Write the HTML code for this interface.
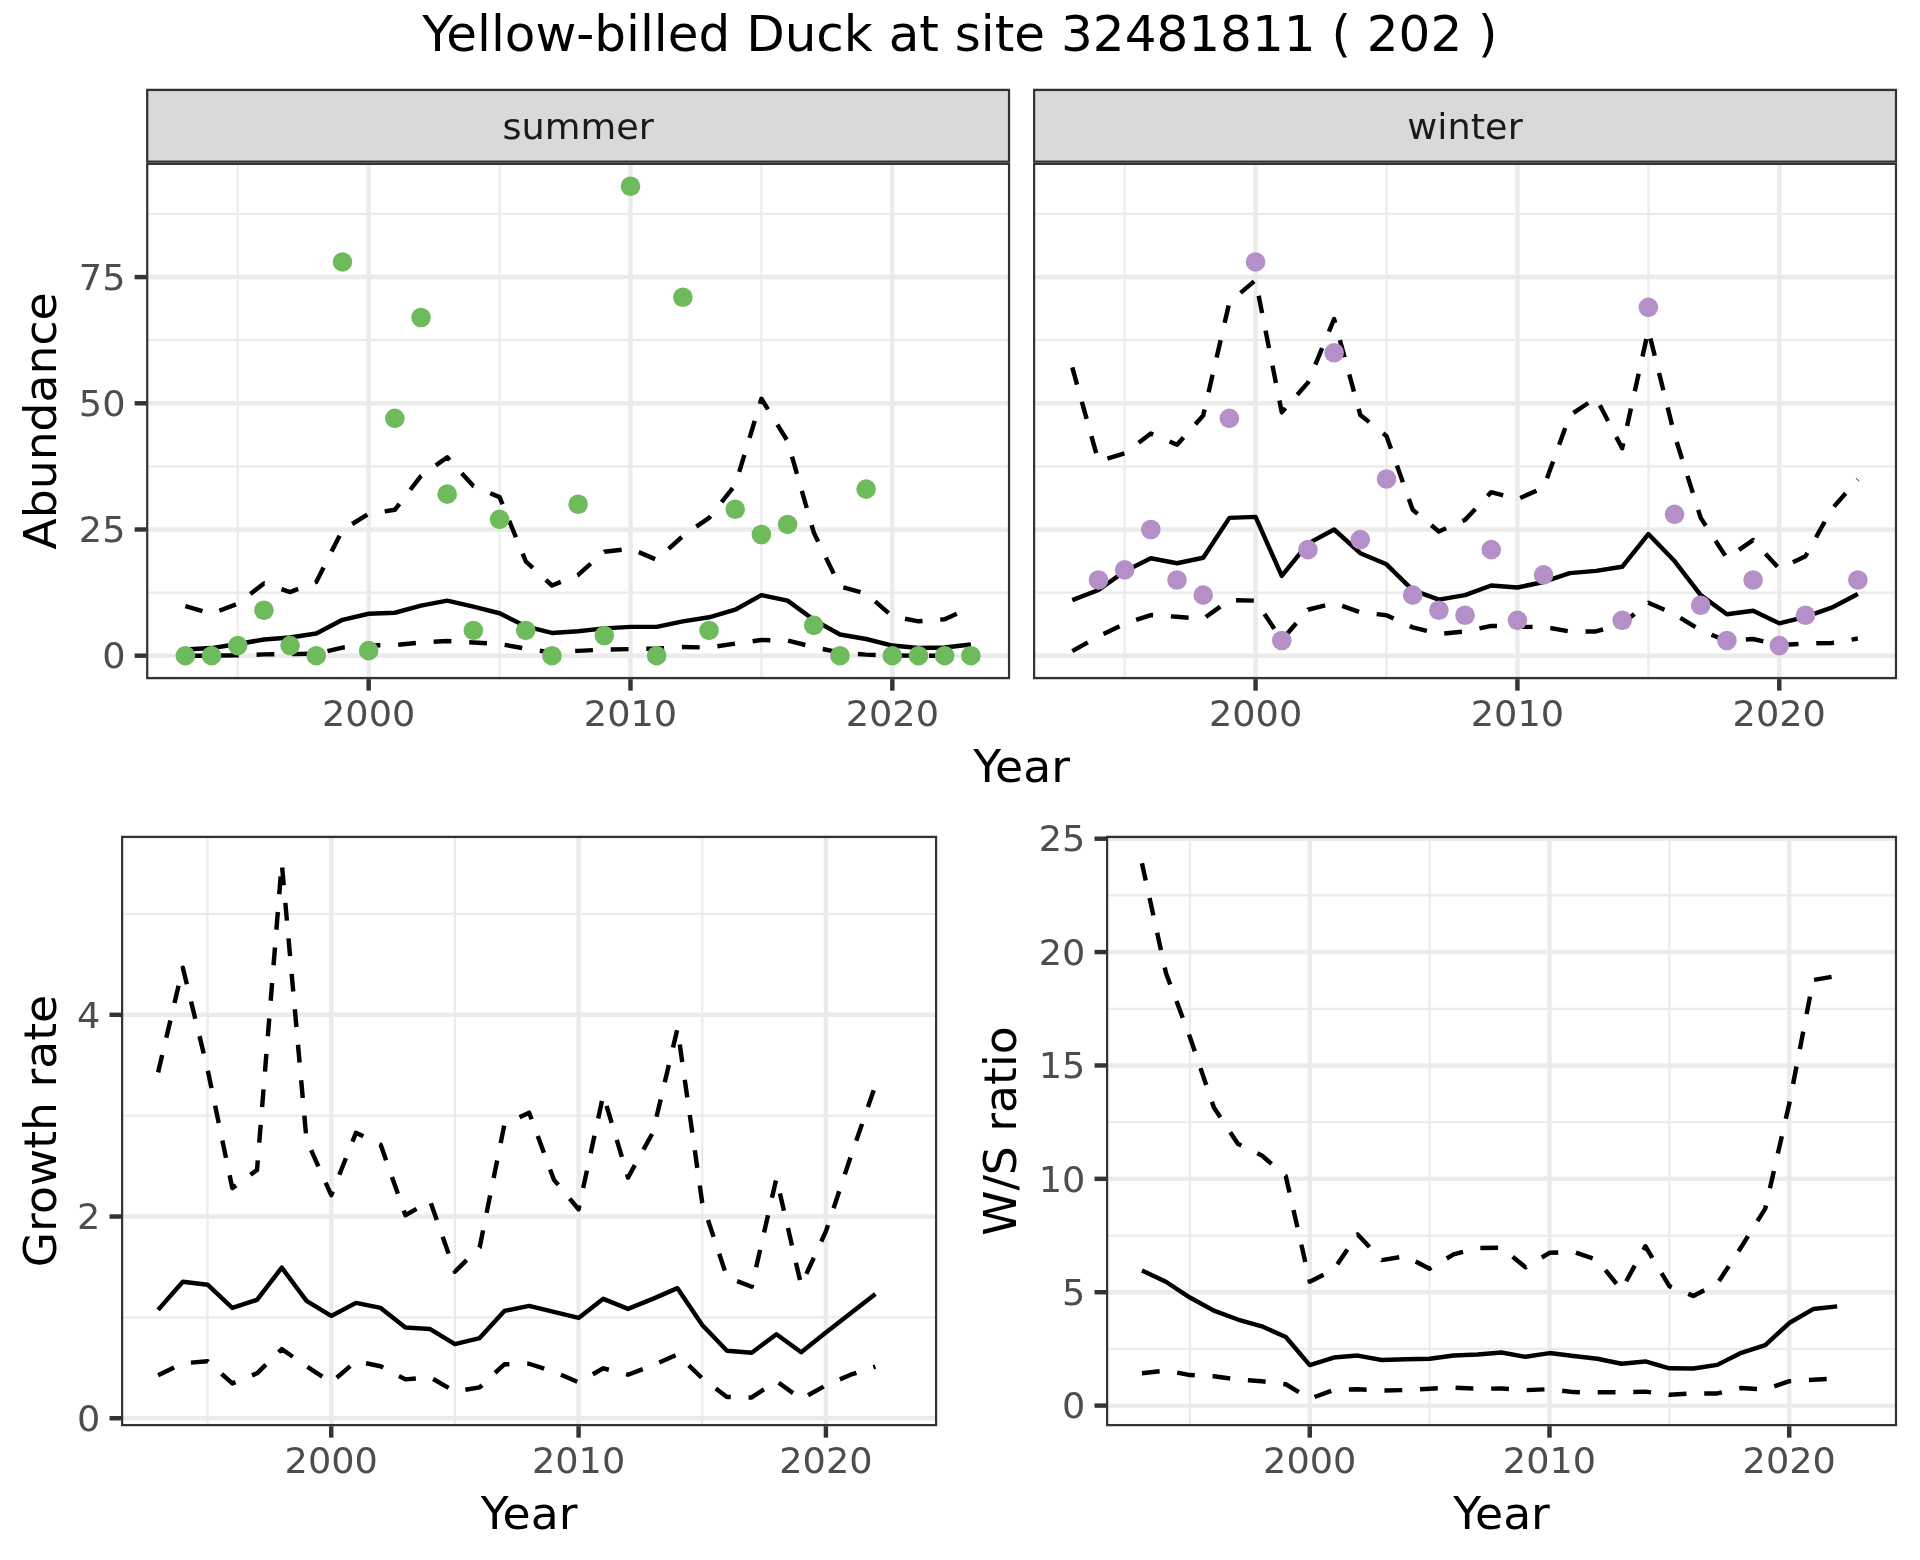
<!DOCTYPE html>
<html lang="en"><head><meta charset="utf-8"><title>Yellow-billed Duck at site 32481811</title>
<style>html,body{margin:0;padding:0;background:#fff}svg{display:block;will-change:transform}</style></head>
<body>
<svg width="1920" height="1560" viewBox="0 0 1920 1560" font-family='"DejaVu Sans", "Liberation Sans", sans-serif'>
<rect width="1920" height="1560" fill="#fff"/>
<text x="960" y="51" font-size="50" text-anchor="middle" fill="#000">Yellow-billed Duck at site 32481811 ( 202 )</text>
<clipPath id="cssummer"><rect x="146.1" y="88.85" width="864.05" height="73.9"/></clipPath>
<rect x="146.1" y="88.85" width="864.05" height="73.9" fill="#D9D9D9" stroke="#333" stroke-width="4.45" clip-path="url(#cssummer)"/>
<text transform="translate(578.12,138.7) scale(1,0.955)" font-size="36.67" text-anchor="middle" fill="#1A1A1A">summer</text>
<clipPath id="cswinter"><rect x="1033" y="88.85" width="864.1" height="73.9"/></clipPath>
<rect x="1033" y="88.85" width="864.1" height="73.9" fill="#D9D9D9" stroke="#333" stroke-width="4.45" clip-path="url(#cswinter)"/>
<text transform="translate(1465.05,138.7) scale(1,0.955)" font-size="36.67" text-anchor="middle" fill="#1A1A1A">winter</text>
<clipPath id="cpS"><rect x="146.1" y="162.75" width="864.05" height="516.4"/></clipPath>
<g clip-path="url(#cpS)">
<rect x="146.1" y="162.75" width="864.05" height="516.4" fill="#fff"/>
<g stroke="#EBEBEB" stroke-width="2.23" fill="none">
<path d="M146.1 592.58H1010.15"/>
<path d="M146.1 466.38H1010.15"/>
<path d="M146.1 340.18H1010.15"/>
<path d="M146.1 213.98H1010.15"/>
<path d="M237.74 162.75V679.15"/>
<path d="M499.58 162.75V679.15"/>
<path d="M761.41 162.75V679.15"/>
</g>
<g stroke="#EBEBEB" stroke-width="4.45" fill="none">
<path d="M146.1 655.68H1010.15"/>
<path d="M146.1 529.48H1010.15"/>
<path d="M146.1 403.28H1010.15"/>
<path d="M146.1 277.08H1010.15"/>
<path d="M368.66 162.75V679.15"/>
<path d="M630.49 162.75V679.15"/>
<path d="M892.33 162.75V679.15"/>
</g>
<path d="M185.38 649.59L211.56 648.08L237.74 644.04L263.92 639.5L290.11 637.48L316.29 633.44L342.47 619.82L368.66 613.76L394.84 612.75L421.02 605.68L447.21 600.64L473.39 606.69L499.58 613.26L525.76 626.38L551.94 632.94L578.12 631.17L604.31 628.4L630.49 626.88L656.67 626.88L682.86 621.33L709.04 617.29L735.22 609.72L761.41 595.09L787.59 600.64L813.77 619.82L839.96 634.45L866.14 638.99L892.33 645.56L918.51 648.08L944.69 647.57L970.88 644.55" fill="none" stroke="#000" stroke-width="4.45" stroke-linejoin="round" stroke-linecap="butt"/>
<path d="M185.38 606.19L211.56 613.76L237.74 603.67L263.92 583.48L290.11 592.06L316.29 581.96L342.47 529.98L368.66 513.83L394.84 509.79L421.02 475.98L447.21 457.3L473.39 486.07L499.58 497.17L525.76 561.27L551.94 585.5L578.12 574.9L604.31 551.68L630.49 548.65L656.67 559.76L682.86 536.04L709.04 517.87L735.22 485.06L761.41 398.76L787.59 441.15L813.77 532.5L839.96 586.51L866.14 593.57L892.33 616.28L918.51 621.33L944.69 619.31L970.88 607.2" fill="none" stroke="#000" stroke-width="4.45" stroke-linejoin="round" stroke-linecap="butt" stroke-dasharray="17.8 17.8"/>
<path d="M185.38 655.65L211.56 655.65L237.74 655.4L263.92 654.39L290.11 654.14L316.29 653.63L342.47 647.57L368.66 645.56L394.84 645.05L421.02 642.53L447.21 641.01L473.39 642.53L499.58 644.04L525.76 648.58L551.94 652.62L578.12 650.86L604.31 649.59L630.49 649.09L656.67 648.58L682.86 647.07L709.04 647.57L735.22 643.54L761.41 640L787.59 640.51L813.77 647.07L839.96 652.62L866.14 654.64L892.33 655.5L918.51 655.65L944.69 655.65L970.88 655.65" fill="none" stroke="#000" stroke-width="4.45" stroke-linejoin="round" stroke-linecap="butt" stroke-dasharray="17.8 17.8"/>
<g fill="#70BA5E">
<circle cx="185.38" cy="655.68" r="9.8"/>
<circle cx="211.56" cy="655.68" r="9.8"/>
<circle cx="237.74" cy="645.58" r="9.8"/>
<circle cx="263.92" cy="610.25" r="9.8"/>
<circle cx="290.11" cy="645.58" r="9.8"/>
<circle cx="316.29" cy="655.68" r="9.8"/>
<circle cx="342.47" cy="261.94" r="9.8"/>
<circle cx="368.66" cy="650.63" r="9.8"/>
<circle cx="394.84" cy="418.42" r="9.8"/>
<circle cx="421.02" cy="317.46" r="9.8"/>
<circle cx="447.21" cy="494.14" r="9.8"/>
<circle cx="473.39" cy="630.44" r="9.8"/>
<circle cx="499.58" cy="519.38" r="9.8"/>
<circle cx="525.76" cy="630.44" r="9.8"/>
<circle cx="551.94" cy="655.68" r="9.8"/>
<circle cx="578.12" cy="504.24" r="9.8"/>
<circle cx="604.31" cy="635.49" r="9.8"/>
<circle cx="630.49" cy="186.22" r="9.8"/>
<circle cx="656.67" cy="655.68" r="9.8"/>
<circle cx="682.86" cy="297.27" r="9.8"/>
<circle cx="709.04" cy="630.44" r="9.8"/>
<circle cx="735.22" cy="509.29" r="9.8"/>
<circle cx="761.41" cy="534.53" r="9.8"/>
<circle cx="787.59" cy="524.43" r="9.8"/>
<circle cx="813.77" cy="625.39" r="9.8"/>
<circle cx="839.96" cy="655.68" r="9.8"/>
<circle cx="866.14" cy="489.1" r="9.8"/>
<circle cx="892.33" cy="655.68" r="9.8"/>
<circle cx="918.51" cy="655.68" r="9.8"/>
<circle cx="944.69" cy="655.68" r="9.8"/>
<circle cx="970.88" cy="655.68" r="9.8"/>
</g>
<rect x="146.1" y="162.75" width="864.05" height="516.4" fill="none" stroke="#333" stroke-width="4.45"/>
</g>
<clipPath id="cpW"><rect x="1033" y="162.75" width="864.1" height="516.4"/></clipPath>
<g clip-path="url(#cpW)">
<rect x="1033" y="162.75" width="864.1" height="516.4" fill="#fff"/>
<g stroke="#EBEBEB" stroke-width="2.23" fill="none">
<path d="M1033 592.58H1897.1"/>
<path d="M1033 466.38H1897.1"/>
<path d="M1033 340.18H1897.1"/>
<path d="M1033 213.98H1897.1"/>
<path d="M1124.65 162.75V679.15"/>
<path d="M1386.5 162.75V679.15"/>
<path d="M1648.34 162.75V679.15"/>
</g>
<g stroke="#EBEBEB" stroke-width="4.45" fill="none">
<path d="M1033 655.68H1897.1"/>
<path d="M1033 529.48H1897.1"/>
<path d="M1033 403.28H1897.1"/>
<path d="M1033 277.08H1897.1"/>
<path d="M1255.57 162.75V679.15"/>
<path d="M1517.42 162.75V679.15"/>
<path d="M1779.27 162.75V679.15"/>
</g>
<path d="M1072.28 600.13L1098.46 590.04L1124.65 571.37L1150.83 558.24L1177.02 563.29L1203.2 557.74L1229.39 517.87L1255.57 516.86L1281.76 575.91L1307.94 543.61L1334.13 529.48L1360.31 553.2L1386.5 564.3L1412.68 590.04L1438.87 599.63L1465.05 595.09L1491.23 585.5L1517.42 587.52L1543.6 581.96L1569.79 573.13L1595.97 570.86L1622.16 566.82L1648.34 534.02L1674.53 561.02L1700.71 595.09L1726.9 614.26L1753.08 610.73L1779.27 623.35L1805.45 616.79L1831.64 607.7L1857.82 594.08" fill="none" stroke="#000" stroke-width="4.45" stroke-linejoin="round" stroke-linecap="butt"/>
<path d="M1072.28 367.47L1098.46 461.34L1124.65 453.27L1150.83 433.58L1177.02 444.69L1203.2 415.41L1229.39 302.36L1255.57 280.15L1281.76 412.38L1307.94 382.61L1334.13 319.02L1360.31 414.91L1386.5 436.11L1412.68 509.79L1438.87 531.49L1465.05 519.89L1491.23 492.13L1517.42 499.19L1543.6 487.58L1569.79 415.41L1595.97 397.75L1622.16 448.22L1648.34 330.12L1674.53 435.1L1700.71 517.87L1726.9 558.24L1753.08 540.07L1779.27 568.84L1805.45 556.22L1831.64 509.29L1857.82 479.51" fill="none" stroke="#000" stroke-width="4.45" stroke-linejoin="round" stroke-linecap="butt" stroke-dasharray="17.8 17.8"/>
<path d="M1072.28 651.11L1098.46 636.47L1124.65 623.85L1150.83 615.02L1177.02 616.79L1203.2 618.81L1229.39 600.13L1255.57 600.64L1281.76 640L1307.94 609.72L1334.13 603.16L1360.31 612.25L1386.5 615.27L1412.68 627.39L1438.87 633.95L1465.05 631.42L1491.23 625.87L1517.42 626.88L1543.6 626.88L1569.79 631.42L1595.97 631.42L1622.16 623.85L1648.34 602.66L1674.53 614.26L1700.71 630.41L1726.9 641.01L1753.08 638.99L1779.27 645.05L1805.45 643.54L1831.64 643.03L1857.82 638.49" fill="none" stroke="#000" stroke-width="4.45" stroke-linejoin="round" stroke-linecap="butt" stroke-dasharray="17.8 17.8"/>
<g fill="#B48FC8">
<circle cx="1098.46" cy="579.96" r="9.8"/>
<circle cx="1124.65" cy="569.86" r="9.8"/>
<circle cx="1150.83" cy="529.48" r="9.8"/>
<circle cx="1177.02" cy="579.96" r="9.8"/>
<circle cx="1203.2" cy="595.1" r="9.8"/>
<circle cx="1229.39" cy="418.42" r="9.8"/>
<circle cx="1255.57" cy="261.94" r="9.8"/>
<circle cx="1281.76" cy="640.54" r="9.8"/>
<circle cx="1307.94" cy="549.67" r="9.8"/>
<circle cx="1334.13" cy="352.8" r="9.8"/>
<circle cx="1360.31" cy="539.58" r="9.8"/>
<circle cx="1386.5" cy="479" r="9.8"/>
<circle cx="1412.68" cy="595.1" r="9.8"/>
<circle cx="1438.87" cy="610.25" r="9.8"/>
<circle cx="1465.05" cy="615.3" r="9.8"/>
<circle cx="1491.23" cy="549.67" r="9.8"/>
<circle cx="1517.42" cy="620.34" r="9.8"/>
<circle cx="1543.6" cy="574.91" r="9.8"/>
<circle cx="1622.16" cy="620.34" r="9.8"/>
<circle cx="1648.34" cy="307.37" r="9.8"/>
<circle cx="1674.53" cy="514.34" r="9.8"/>
<circle cx="1700.71" cy="605.2" r="9.8"/>
<circle cx="1726.9" cy="640.54" r="9.8"/>
<circle cx="1753.08" cy="579.96" r="9.8"/>
<circle cx="1779.27" cy="645.58" r="9.8"/>
<circle cx="1805.45" cy="615.3" r="9.8"/>
<circle cx="1857.82" cy="579.96" r="9.8"/>
</g>
<rect x="1033" y="162.75" width="864.1" height="516.4" fill="none" stroke="#333" stroke-width="4.45"/>
</g>
<g stroke="#333" stroke-width="4.45">
<path d="M368.66 679.15v11.46"/>
<path d="M630.49 679.15v11.46"/>
<path d="M892.33 679.15v11.46"/>
</g>
<g font-size="36.67" fill="#4D4D4D" text-anchor="middle">
<text transform="translate(368.66,725.55) scale(1,0.955)">2000</text>
<text transform="translate(630.49,725.55) scale(1,0.955)">2010</text>
<text transform="translate(892.33,725.55) scale(1,0.955)">2020</text>
</g>
<g stroke="#333" stroke-width="4.45">
<path d="M1255.57 679.15v11.46"/>
<path d="M1517.42 679.15v11.46"/>
<path d="M1779.27 679.15v11.46"/>
</g>
<g font-size="36.67" fill="#4D4D4D" text-anchor="middle">
<text transform="translate(1255.57,725.55) scale(1,0.955)">2000</text>
<text transform="translate(1517.42,725.55) scale(1,0.955)">2010</text>
<text transform="translate(1779.27,725.55) scale(1,0.955)">2020</text>
</g>
<g stroke="#333" stroke-width="4.45">
<path d="M146.1 655.68h-11.46"/>
<path d="M146.1 529.48h-11.46"/>
<path d="M146.1 403.28h-11.46"/>
<path d="M146.1 277.08h-11.46"/>
</g>
<g font-size="36.67" fill="#4D4D4D" text-anchor="end">
<text transform="translate(125.5,668.38) scale(1,0.955)">0</text>
<text transform="translate(125.5,542.18) scale(1,0.955)">25</text>
<text transform="translate(125.5,415.98) scale(1,0.955)">50</text>
<text transform="translate(125.5,289.78) scale(1,0.955)">75</text>
</g>
<clipPath id="cpG"><rect x="121" y="835.85" width="816.2" height="590.35"/></clipPath>
<g clip-path="url(#cpG)">
<rect x="121" y="835.85" width="816.2" height="590.35" fill="#fff"/>
<g stroke="#EBEBEB" stroke-width="2.23" fill="none">
<path d="M121 1317.39H937.2"/>
<path d="M121 1115.67H937.2"/>
<path d="M121 913.95H937.2"/>
<path d="M207.57 835.85V1426.2"/>
<path d="M454.9 835.85V1426.2"/>
<path d="M702.23 835.85V1426.2"/>
</g>
<g stroke="#EBEBEB" stroke-width="4.45" fill="none">
<path d="M121 1418.25H937.2"/>
<path d="M121 1216.53H937.2"/>
<path d="M121 1014.81H937.2"/>
<path d="M331.23 835.85V1426.2"/>
<path d="M578.57 835.85V1426.2"/>
<path d="M825.9 835.85V1426.2"/>
</g>
<path d="M158.1 1309.9L182.83 1281.72L207.57 1284.74L232.3 1307.89L257.03 1299.84L281.77 1267.63L306.5 1300.85L331.23 1315.94L355.97 1302.86L380.7 1307.89L405.43 1327.52L430.17 1329.03L454.9 1344.13L479.63 1338.09L504.37 1310.91L529.1 1305.88L553.83 1311.92L578.57 1317.96L603.3 1298.83L628.03 1308.9L652.77 1298.83L677.5 1288.16L702.23 1325L726.97 1350.77L751.7 1352.78L776.43 1334.26L801.17 1352.18L825.9 1332.55L850.63 1313.23L875.37 1293.9" fill="none" stroke="#000" stroke-width="4.45" stroke-linejoin="round" stroke-linecap="butt"/>
<path d="M158.1 1072.37L182.83 967.69L207.57 1069.35L232.3 1188.12L257.03 1170L281.77 863.12L306.5 1139.81L331.23 1195.16L355.97 1132.76L380.7 1144.84L405.43 1215.29L430.17 1201.2L454.9 1271.66L479.63 1247.5L504.37 1124.71L529.1 1112.63L553.83 1179.56L578.57 1209.25L603.3 1094.82L628.03 1177.55L652.77 1132.76L677.5 1028.59L702.23 1202.71L726.97 1277.19L751.7 1286.75L776.43 1178.25L801.17 1285.25L825.9 1231.4L850.63 1156.92L875.37 1085.45" fill="none" stroke="#000" stroke-width="4.45" stroke-linejoin="round" stroke-linecap="butt" stroke-dasharray="17.8 17.8"/>
<path d="M158.1 1375.33L182.83 1363.25L207.57 1361.24L232.3 1383.38L257.03 1373.31L281.77 1349.16L306.5 1366.27L331.23 1382.37L355.97 1361.24L380.7 1366.27L405.43 1379.35L430.17 1377.34L454.9 1391.43L479.63 1387.4L504.37 1364.26L529.1 1363.75L553.83 1371.8L578.57 1382.37L603.3 1368.28L628.03 1374.72L652.77 1365.26L677.5 1354.49L702.23 1378.35L726.97 1396.97L751.7 1397.47L776.43 1381.06L801.17 1398.98L825.9 1385.39L850.63 1374.72L875.37 1366.67" fill="none" stroke="#000" stroke-width="4.45" stroke-linejoin="round" stroke-linecap="butt" stroke-dasharray="17.8 17.8"/>
<rect x="121" y="835.85" width="816.2" height="590.35" fill="none" stroke="#333" stroke-width="4.45"/>
</g>
<g stroke="#333" stroke-width="4.45">
<path d="M331.23 1426.2v11.46"/>
<path d="M578.57 1426.2v11.46"/>
<path d="M825.9 1426.2v11.46"/>
</g>
<g font-size="36.67" fill="#4D4D4D" text-anchor="middle">
<text transform="translate(331.23,1472.6) scale(1,0.955)">2000</text>
<text transform="translate(578.57,1472.6) scale(1,0.955)">2010</text>
<text transform="translate(825.9,1472.6) scale(1,0.955)">2020</text>
</g>
<g stroke="#333" stroke-width="4.45">
<path d="M121 1418.25h-11.46"/>
<path d="M121 1216.53h-11.46"/>
<path d="M121 1014.81h-11.46"/>
</g>
<g font-size="36.67" fill="#4D4D4D" text-anchor="end">
<text transform="translate(100.4,1430.95) scale(1,0.955)">0</text>
<text transform="translate(100.4,1229.23) scale(1,0.955)">2</text>
<text transform="translate(100.4,1027.51) scale(1,0.955)">4</text>
</g>
<clipPath id="cpR"><rect x="1106" y="835.85" width="791.1" height="590.35"/></clipPath>
<g clip-path="url(#cpR)">
<rect x="1106" y="835.85" width="791.1" height="590.35" fill="#fff"/>
<g stroke="#EBEBEB" stroke-width="2.23" fill="none">
<path d="M1106 1348.91H1897.1"/>
<path d="M1106 1235.53H1897.1"/>
<path d="M1106 1122.15H1897.1"/>
<path d="M1106 1008.77H1897.1"/>
<path d="M1106 895.39H1897.1"/>
<path d="M1189.9 835.85V1426.2"/>
<path d="M1429.63 835.85V1426.2"/>
<path d="M1669.36 835.85V1426.2"/>
</g>
<g stroke="#EBEBEB" stroke-width="4.45" fill="none">
<path d="M1106 1405.6H1897.1"/>
<path d="M1106 1292.22H1897.1"/>
<path d="M1106 1178.84H1897.1"/>
<path d="M1106 1065.46H1897.1"/>
<path d="M1106 952.08H1897.1"/>
<path d="M1106 838.7H1897.1"/>
<path d="M1309.77 835.85V1426.2"/>
<path d="M1549.5 835.85V1426.2"/>
<path d="M1789.22 835.85V1426.2"/>
</g>
<path d="M1141.96 1270.53L1165.93 1281.75L1189.9 1297.52L1213.88 1310.67L1237.85 1319.52L1261.82 1326.32L1285.8 1336.98L1309.77 1365.1L1333.74 1357.51L1357.71 1355.58L1381.69 1360L1405.66 1359.21L1429.63 1358.75L1453.6 1355.58L1477.58 1354.44L1501.55 1352.52L1525.52 1356.82L1549.5 1353.08L1573.47 1356.03L1597.44 1358.75L1621.41 1363.74L1645.39 1361.47L1669.36 1368.28L1693.33 1368.5L1717.3 1364.88L1741.28 1352.86L1765.25 1345.14L1789.22 1323.03L1813.2 1309.08L1837.17 1306.36" fill="none" stroke="#000" stroke-width="4.45" stroke-linejoin="round" stroke-linecap="butt"/>
<path d="M1141.96 863.19L1165.93 972.97L1189.9 1036.92L1213.88 1107.46L1237.85 1143.75L1261.82 1155.54L1285.8 1176.18L1309.77 1281.64L1333.74 1269.62L1357.71 1234.47L1381.69 1260.09L1405.66 1256.24L1429.63 1268.71L1453.6 1254.42L1477.58 1247.96L1501.55 1247.73L1525.52 1267.35L1549.5 1252.84L1573.47 1251.7L1597.44 1260.09L1621.41 1290.03L1645.39 1246.26L1669.36 1286.18L1693.33 1295.93L1717.3 1283.68L1741.28 1246.94L1765.25 1208.61L1789.22 1104.06L1813.2 980L1837.17 975.91" fill="none" stroke="#000" stroke-width="4.45" stroke-linejoin="round" stroke-linecap="butt" stroke-dasharray="17.8 17.8"/>
<path d="M1141.96 1373.27L1165.93 1370.55L1189.9 1375.08L1213.88 1376.22L1237.85 1379.5L1261.82 1381.21L1285.8 1384.24L1309.77 1398.76L1333.74 1390.05L1357.71 1389.26L1381.69 1390.5L1405.66 1390.05L1429.63 1388.69L1453.6 1387.56L1477.58 1388.69L1501.55 1388.58L1525.52 1390.16L1549.5 1389.14L1573.47 1392.09L1597.44 1392.32L1621.41 1392.32L1645.39 1391.64L1669.36 1394.81L1693.33 1393.45L1717.3 1393.45L1741.28 1388.01L1765.25 1389.6L1789.22 1381.21L1813.2 1379.84L1837.17 1378.48" fill="none" stroke="#000" stroke-width="4.45" stroke-linejoin="round" stroke-linecap="butt" stroke-dasharray="17.8 17.8"/>
<rect x="1106" y="835.85" width="791.1" height="590.35" fill="none" stroke="#333" stroke-width="4.45"/>
</g>
<g stroke="#333" stroke-width="4.45">
<path d="M1309.77 1426.2v11.46"/>
<path d="M1549.5 1426.2v11.46"/>
<path d="M1789.22 1426.2v11.46"/>
</g>
<g font-size="36.67" fill="#4D4D4D" text-anchor="middle">
<text transform="translate(1309.77,1472.6) scale(1,0.955)">2000</text>
<text transform="translate(1549.5,1472.6) scale(1,0.955)">2010</text>
<text transform="translate(1789.22,1472.6) scale(1,0.955)">2020</text>
</g>
<g stroke="#333" stroke-width="4.45">
<path d="M1106 1405.6h-11.46"/>
<path d="M1106 1292.22h-11.46"/>
<path d="M1106 1178.84h-11.46"/>
<path d="M1106 1065.46h-11.46"/>
<path d="M1106 952.08h-11.46"/>
<path d="M1106 838.7h-11.46"/>
</g>
<g font-size="36.67" fill="#4D4D4D" text-anchor="end">
<text transform="translate(1085.4,1418.3) scale(1,0.955)">0</text>
<text transform="translate(1085.4,1304.92) scale(1,0.955)">5</text>
<text transform="translate(1085.4,1191.54) scale(1,0.955)">10</text>
<text transform="translate(1085.4,1078.16) scale(1,0.955)">15</text>
<text transform="translate(1085.4,964.78) scale(1,0.955)">20</text>
<text transform="translate(1085.4,851.4) scale(1,0.955)">25</text>
</g>
<g font-size="45.65" fill="#000" text-anchor="middle">
<text transform="translate(1021.6,781.9) scale(1,0.975)">Year</text>
<text transform="translate(529.1,1529) scale(1,0.975)">Year</text>
<text transform="translate(1501.55,1529) scale(1,0.975)">Year</text>
<text transform="translate(56,420.95) rotate(-90) scale(1,0.975)">Abundance</text>
<text transform="translate(56,1131.03) rotate(-90) scale(1,0.975)">Growth rate</text>
<text transform="translate(1016,1131.03) rotate(-90) scale(1,0.975)">W/S ratio</text>
</g>
</svg>
</body></html>
